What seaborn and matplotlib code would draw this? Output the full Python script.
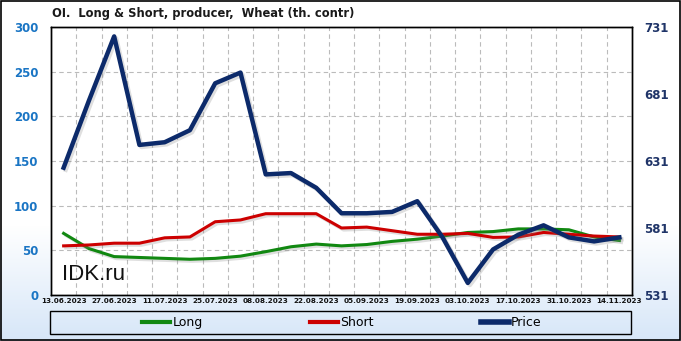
import numpy as np
import pandas as pd
import matplotlib
matplotlib.use("Agg")
import matplotlib.pyplot as plt
import matplotlib.patheffects as pe
from matplotlib.lines import Line2D
from matplotlib.patches import Rectangle
import seaborn as sns

dates = ["13.06.2023", "20.06.2023", "27.06.2023", "04.07.2023", "11.07.2023", "18.07.2023",
         "25.07.2023", "01.08.2023", "08.08.2023", "15.08.2023", "22.08.2023", "29.08.2023",
         "05.09.2023", "12.09.2023", "19.09.2023", "26.09.2023", "03.10.2023", "10.10.2023",
         "17.10.2023", "24.10.2023", "31.10.2023", "07.11.2023", "14.11.2023"]
long_vals = [69, 52, 43, 42, 41, 40, 41, 43.5, 48.5, 54, 57, 55, 56.5, 60, 62.5, 66, 70, 71, 74, 74, 73, 65, 61]
short_vals = [55, 56, 58, 58, 64, 65, 82, 84, 91, 91, 91, 75, 76, 72, 68, 68, 69, 64.5, 65, 70, 68, 66, 65]
price_vals = [626, 676, 724, 643, 645, 654, 689, 697, 621, 622, 611, 592, 592, 593, 601, 574, 540, 565, 576, 583, 574, 571, 574]

left_ticks = [0, 50, 100, 150, 200, 250, 300]
right_ticks = [531, 581, 631, 681, 731]

df = pd.DataFrame({"idx": np.arange(len(dates)), "Long": long_vals, "Short": short_vals, "Price": price_vals})

W, H = 681, 341
fig = plt.figure(figsize=(W / 100, H / 100), dpi=100)
fig.patch.set_facecolor("white")

# background gradient
bg = fig.add_axes([0, 0, 1, 1], zorder=-10)
ys = np.arange(H)
t = np.clip((ys - 225) / (H - 225), 0, 1)
c_top = np.array([1.0, 1.0, 1.0])
c_bot = np.array([0xd6, 0xe6, 0xf8]) / 255
img = c_top[None, :] * (1 - t[:, None]) + c_bot[None, :] * t[:, None]
bg.imshow(img[:, None, :], aspect="auto", extent=[0, 1, 0, 1], origin="upper")
bg.set_axis_off()
bg.add_patch(Rectangle((0.001, 0.002), 0.997, 0.995, transform=bg.transAxes, fill=False, edgecolor="black", lw=1.2))

ax = fig.add_axes([51 / W, 1 - 295 / H, 581 / W, 268 / H])
ax.set_facecolor("white")
shadow = [pe.SimpleLineShadow(offset=(1.5, -1.5), alpha=0.25, shadow_color="gray"), pe.Normal()]

sns.lineplot(data=df, x="idx", y="Long", ax=ax, color="#118811", lw=2.2, path_effects=shadow, legend=False)
sns.lineplot(data=df, x="idx", y="Short", ax=ax, color="#cc0000", lw=2.2, path_effects=shadow, legend=False)
ax.set_xlim(-0.5, len(dates) - 0.5)
ax.set_ylim(0, 300)
ax.set_yticks(left_ticks)
ax.set_yticklabels([str(v) for v in left_ticks], color="#1a75c4", fontsize=8.5, fontweight="bold")
ax.set_xticks(np.arange(0, len(dates), 2))
ax.set_xticklabels(dates[::2], fontsize=5.2, fontweight="bold", color="#111111")
ax.set_xticks(np.arange(0.5, len(dates) - 1, 1), minor=True)
ax.tick_params(axis="both", which="both", length=0)
ax.tick_params(axis="y", pad=9)
ax.tick_params(axis="x", pad=2)
ax.grid(False)
ax.xaxis.grid(True, which="minor", color="#bbbbbb", ls=(0, (4, 3)), lw=0.8)
ax.yaxis.grid(True, which="major", color="#bbbbbb", ls=(0, (4, 3)), lw=0.8)
ax.set_xlabel("")
ax.set_ylabel("")
for s in ax.spines.values():
    s.set_color("black")
    s.set_linewidth(1.0)

ax2 = ax.twinx()
sns.lineplot(data=df, x="idx", y="Price", ax=ax2, color="#0c2a6a", lw=3.2, path_effects=shadow, legend=False)
ax2.set_ylim(531, 731)
ax2.set_yticks(right_ticks)
ax2.set_yticklabels([str(v) for v in right_ticks], color="#1f3468", fontsize=8.5, fontweight="bold")
ax2.tick_params(axis="y", length=0, pad=9)
ax2.set_ylabel("")
ax2.grid(False)
for s in ax2.spines.values():
    s.set_color("black")
    s.set_linewidth(1.0)

fig.text(62 / W, 1 - 274 / H, "IDK.ru", fontsize=16, family="Liberation Sans", va="center", ha="left", color="#111111")

fig.text(52 / W, 1 - 13 / H, "OI.  Long & Short, producer,  Wheat (th. contr)", fontsize=8.3,
         fontweight="bold", color="#1a1a1a", va="center", ha="left")

# legend box
fig.patches.append(Rectangle((50 / W, 1 - 334 / H), 581 / W, 23 / H, transform=fig.transFigure,
                             fill=False, edgecolor="black", lw=1.0))
handles = [Line2D([], [], color="#118811", lw=3),
           Line2D([], [], color="#cc0000", lw=3),
           Line2D([], [], color="#0c2a6a", lw=4)]
fig.legend(handles, ["Long", "Short", "Price"], loc="center", bbox_to_anchor=(342 / W, 1 - 322.5 / H),
           ncol=3, frameon=False, handlelength=2.2, handletextpad=0.2, columnspacing=8.6,
           prop={"family": "DejaVu Sans", "size": 9})

fig.savefig("out.png", dpi=100)
